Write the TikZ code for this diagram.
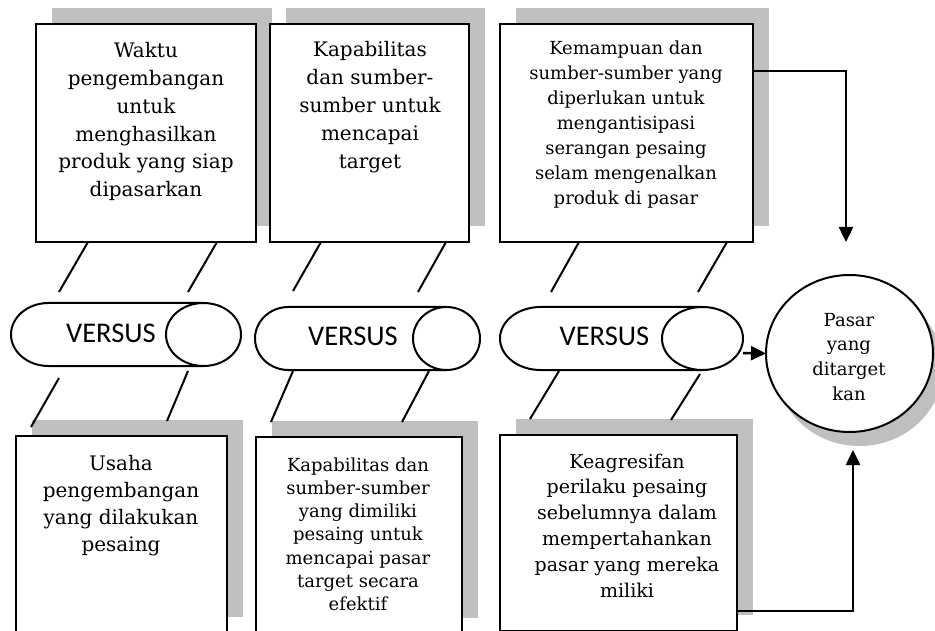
\documentclass[tikz,border=0pt]{standalone}
\usepackage{fontspec}
\setmainfont{DejaVu Serif}
\newfontfamily\versusfont{Carlito}
\usetikzlibrary{arrows.meta,calc,shapes.geometric,shadows}

\definecolor{shadowgray}{RGB}{191,191,191}

\begin{document}
\begin{tikzpicture}[x=1pt,y=-1pt,
  box/.style={draw=black, line width=2pt, fill=white, anchor=north west,
    inner sep=0pt, outer sep=0pt,
    drop shadow={shadow xshift=16pt, shadow yshift=16pt, fill=shadowgray,
      opacity=1, draw=none}},
  % multi-line labels are placed by the baseline of their last line
  boxtext/.style={anchor=base, align=center, inner sep=0pt},
  bigtext/.style={boxtext, font=\fontsize{20}{27.7}\selectfont},
  pill/.style={draw=black, line width=2pt, fill=white},
  vs/.style={anchor=base, inner sep=0pt, font=\versusfont\fontsize{28.5}{30}\selectfont},
  link/.style={draw=black, line width=2pt},
  conn/.style={draw=black, line width=2.5pt, -{Triangle[length=15pt,width=14pt]}},
]
\useasboundingbox (0,0) rectangle (935,631);
\clip (0,0) rectangle (935,631);

% ---------- upper boxes ----------
\node[box, minimum width=220, minimum height=218] (t1) at (36,24) {};
\node[box, minimum width=199, minimum height=218] (t2) at (270,24) {};
\node[box, minimum width=253, minimum height=218] (t3) at (500,24) {};

\node[bigtext] (t1txt) at (146,196.5)
  {Waktu\\pengembangan\\untuk\\menghasilkan\\produk yang siap\\dipasarkan};
\node[bigtext, font=\fontsize{20}{27.8}\selectfont] (t2txt) at (370,168.2)
  {Kapabilitas\\dan sumber-\\sumber untuk\\mencapai\\target};
\node[boxtext, font=\fontsize{18}{25}\selectfont] (t3txt) at (626,205)
  {Kemampuan dan\\sumber-sumber yang\\diperlukan untuk\\mengantisipasi\\serangan pesaing\\selam mengenalkan\\produk di pasar};

% ---------- lower boxes ----------
\node[box, minimum width=211, minimum height=197] (b1) at (16,436) {};
\node[box, minimum width=206, minimum height=197] (b2) at (256,437) {};
\node[box, minimum width=237, minimum height=196] (b3) at (500,435) {};

\node[boxtext, font=\fontsize{20}{27}\selectfont] (b1txt) at (121,551)
  {Usaha\\pengembangan\\yang dilakukan\\pesaing};
\node[boxtext, font=\fontsize{18}{23.3}\selectfont] (b2txt) at (358,610.8)
  {Kapabilitas dan\\sumber-sumber\\yang dimiliki\\pesaing untuk\\mencapai pasar\\target secara\\efektif};
\node[boxtext, font=\fontsize{19}{25.8}\selectfont] (b3txt) at (627,597)
  {Keagresifan\\perilaku pesaing\\sebelumnya dalam\\mempertahankan\\pasar yang mereka\\miliki};

% ---------- VERSUS cylinders ----------
\path[fill=white] (203.5,303) -- (48.5,303)
  arc[start angle=270, end angle=90, x radius=37.5, y radius=31.5] -- (203.5,366) -- cycle;
\draw[pill, fill=none] (203.5,303) -- (48.5,303)
  arc[start angle=270, end angle=90, x radius=37.5, y radius=31.5] -- (203.5,366);
\draw[pill] (203.5,334.5) ellipse[x radius=37.5, y radius=31.5];
\node[vs] (v1) at (111,342) {VERSUS};

\path[fill=white] (446.5,307) -- (288.5,307)
  arc[start angle=270, end angle=90, x radius=33.5, y radius=31.5] -- (446.5,370) -- cycle;
\draw[pill, fill=none] (446.5,307) -- (288.5,307)
  arc[start angle=270, end angle=90, x radius=33.5, y radius=31.5] -- (446.5,370);
\draw[pill] (446.5,338.5) ellipse[x radius=33.5, y radius=31.5];
\node[vs] (v2) at (353,345) {VERSUS};

\path[fill=white] (702.5,307) -- (540.5,307)
  arc[start angle=270, end angle=90, x radius=40.5, y radius=31.5] -- (702.5,370) -- cycle;
\draw[pill, fill=none] (702.5,307) -- (540.5,307)
  arc[start angle=270, end angle=90, x radius=40.5, y radius=31.5] -- (702.5,370);
\draw[pill] (702.5,338.5) ellipse[x radius=40.5, y radius=31.5];
\node[vs] (v3) at (604.5,345) {VERSUS};
\coordinate (v3end) at (743,353);

% ---------- slanted links ----------
\draw[link] ($(t1.south west)+(52,0)$) -- (59,292);
\draw[link] ($(t1.south west)+(181,0)$) -- (188,292);
\draw[link] ($(t2.south west)+(51,0)$) -- (293,291);
\draw[link] ($(t2.south west)+(176,0)$) -- (418,292);
\draw[link] ($(t3.south west)+(79,0)$) -- (551,292);
\draw[link] ($(t3.south west)+(227,0)$) -- (698,292);

\draw[link] (59,378) -- (31,427);
\draw[link] (188,371) -- (167,421);
\draw[link] (293,371) -- (271,422);
\draw[link] (429,371) -- (402,422);
\draw[link] (559,371) -- (530,419);
\draw[link] (700,374) -- (671,420);

% ---------- target market ----------
\node[ellipse, draw=black, line width=2pt, fill=white, minimum width=167,
  minimum height=157, inner sep=0pt, outer sep=0pt,
  drop shadow={shadow xshift=10pt, shadow yshift=-14pt, fill=shadowgray,
    opacity=1, draw=none}] (mkt) at (849.5,353.5) {};
\node[boxtext, font=\fontsize{18}{24.7}\selectfont] (mkttxt) at (849,400.1)
  {Pasar\\yang\\ditarget\\kan};

% ---------- arrows ----------
\coordinate (mkttop) at (846,242);
\coordinate (mktbot) at (853,450);
\draw[conn] ($(t3.north east)+(0,47)$) -| (mkttop);
\draw[conn] ($(b3.north east)+(0,176)$) -| (mktbot);
\draw[conn] (v3end) -- (mkt.west);

\end{tikzpicture}
\end{document}
